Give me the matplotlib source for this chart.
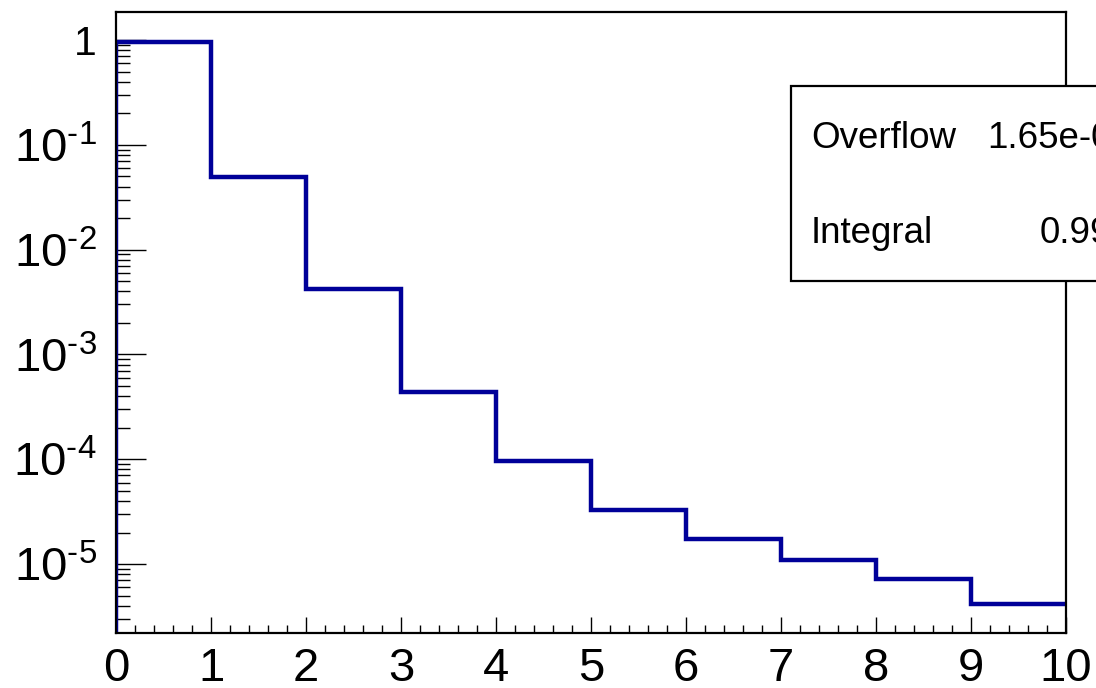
import numpy as np
import matplotlib.pyplot as plt
from matplotlib.ticker import FixedLocator, LogLocator, MultipleLocator, NullFormatter

plt.rcParams['font.family'] = ['Liberation Sans', 'DejaVu Sans']
plt.rcParams['mathtext.fontset'] = 'custom'
plt.rcParams['mathtext.rm'] = 'Liberation Sans'
plt.rcParams['mathtext.it'] = 'Liberation Sans:italic'
plt.rcParams['mathtext.bf'] = 'Liberation Sans:bold'

# bin edges and contents of the histogram
edges = np.arange(0, 11)
contents = [0.957, 0.0495, 0.00425, 4.34e-4, 9.57e-5, 3.26e-5,
            1.73e-5, 1.09e-5, 7.2e-6, 4.15e-6]

y_ticks = [1, 1e-1, 1e-2, 1e-3, 1e-4, 1e-5]
y_labels = ['1', r'$10^{\text{-1}}$', r'$10^{\text{-2}}$', r'$10^{\text{-3}}$',
            r'$10^{\text{-4}}$', r'$10^{\text{-5}}$']
x_ticks = list(range(0, 11))
x_labels = [str(t) for t in x_ticks]

stats_names = ['Overflow', 'Integral']
stats_values = ['1.65e-05', '0.999']

y_range = (2.2e-6, 1.85)
line_color = '#000099'

fig = plt.figure(figsize=(10.96, 6.88), dpi=100)
ax = fig.add_axes([116 / 1096, 1 - 633 / 688, 950 / 1096, 621 / 688])

ax.stairs(contents, edges, baseline=None, color=line_color, lw=3.2, zorder=2)
ax.vlines(edges[0], y_range[0], contents[0], color=line_color, lw=3.2, zorder=2)

ax.set_yscale('log')
ax.set_xlim(edges[0], edges[-1])
ax.set_ylim(*y_range)

ax.yaxis.set_major_locator(FixedLocator(y_ticks))
ax.set_yticklabels(y_labels)
ax.yaxis.set_minor_locator(LogLocator(base=10, subs=np.arange(2, 10)))
ax.yaxis.set_minor_formatter(NullFormatter())
ax.set_xticks(x_ticks)
ax.set_xticklabels(x_labels)
ax.xaxis.set_minor_locator(MultipleLocator(0.2))

ax.tick_params(axis='both', which='both', direction='in', width=1.0,
               color='black', labelsize=34)
ax.tick_params(axis='y', which='major', length=21.5, pad=14)
ax.tick_params(axis='y', which='minor', length=10)
ax.tick_params(axis='x', which='major', length=11.5, pad=10)
ax.tick_params(axis='x', which='minor', length=5.8)

# the plain "1" at the top is set a little smaller than the powers of ten
for lab in ax.get_yticklabels():
    if lab.get_text() == '1':
        lab.set_fontsize(29.5)

for sp in ax.spines.values():
    sp.set_linewidth(1.6)

# statistics box in the upper right corner
box_l, box_b, box_t = 791 / 1096, 1 - 281 / 688, 1 - 86 / 688
box = plt.Rectangle((box_l, box_b), 0.4, box_t - box_b, transform=fig.transFigure,
                    facecolor='white', edgecolor='black', lw=1.6, zorder=5,
                    clip_on=False)
fig.patches.append(box)
rows_y = [1 - 138 / 688, 1 - 233 / 688]
for name, val, yy in zip(stats_names, stats_values, rows_y):
    fig.text(811 / 1096, yy, name, fontsize=26.5, va='center', ha='left', zorder=6)
    fig.text(1132 / 1096, yy, val, fontsize=26.5, va='center', ha='right', zorder=6)

fig.savefig('out.png', dpi=100)
